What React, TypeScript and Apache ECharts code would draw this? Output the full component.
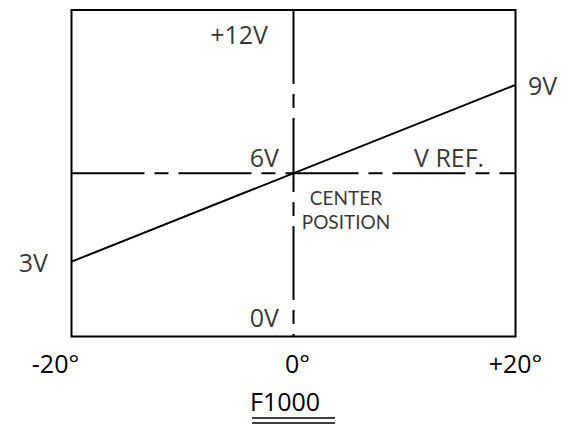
import React, { useEffect, useRef } from "react";
import * as echarts from "echarts";

// Axis ranges and tick labels
const degreeRange = [-20, 20];
const voltRange = [0, 12];
const degreeTicks = [-20, 0, 20];

// Response line (angle in degrees -> output volts)
const responseDeg = [-20, 20];
const responseVolts = [2.75, 9.25];

// Reference lines
const centerDeg = 0;
const refVolts = 6;

// Annotations (text, anchor angle, anchor volts)
const annotationTexts = ["+12V", "6V", "0V", "V REF.", "CENTER", "POSITION", "3V", "9V"];
const annotationDeg = [0, 0, 0, 0, 0, 0, -20, 20];
const annotationVolts = [12, 6, 0, 6, 6, 6, 2.75, 9.25];

const titleText = "F1000";

const FONT = "'Open Sans', sans-serif";
const SMALL_FONT = "Lato, 'Open Sans', sans-serif";

export default function App() {
  const ref = useRef<HTMLDivElement>(null);
  useEffect(() => {
    if (!ref.current) return;
    const chart = echarts.init(ref.current, null, { renderer: "svg" });

    // label placement styles (by index of annotation)
    const labelStyles: any[] = [
      { align: "right", verticalAlign: "middle", offset: [-25.5, 24], fontSize: 25 },
      { align: "right", verticalAlign: "middle", offset: [-14.5, -16.5], fontSize: 25 },
      { align: "right", verticalAlign: "middle", offset: [-14.5, -19.5], fontSize: 25 },
      { align: "left", verticalAlign: "middle", offset: [120.5, -16.5], fontSize: 25 },
      { align: "center", verticalAlign: "middle", offset: [52.5, 24.5], fontSize: 19, fontFamily: SMALL_FONT },
      { align: "center", verticalAlign: "middle", offset: [52.5, 48], fontSize: 19, fontFamily: SMALL_FONT },
      { align: "right", verticalAlign: "middle", offset: [-23.5, 0], fontSize: 25 },
      { align: "left", verticalAlign: "middle", offset: [12.5, 0], fontSize: 25 },
    ];

    const labelData = annotationTexts.map((t, i) => ({
      value: [annotationDeg[i], annotationVolts[i]],
      name: t,
      label: {
        show: true,
        position: "inside",
        formatter: t,
        color: "#000",
        fontFamily: FONT,
        ...labelStyles[i],
      },
    }));

    const fmtDeg = (v: number) => {
      const s = v > 0 ? "+" + v + "°" : v + "°";
      if (v === degreeRange[0]) return "{lo|" + s + "}";
      if (v === 0) return "{mid|" + s + "}";
      return s;
    };

    chart.setOption({
      animation: false,
      title: {
        text: titleText,
        left: 250,
        top: 388,
        padding: 0,
        textStyle: { fontFamily: FONT, fontSize: 25, fontWeight: "normal", color: "#000" },
      },
      grid: {
        left: 71.5,
        right: 47.5,
        top: 10,
        bottom: 87.5,
        show: true,
        borderColor: "#000",
        borderWidth: 2,
        backgroundColor: "transparent",
      },
      xAxis: {
        type: "value",
        min: degreeRange[0],
        max: degreeRange[1],
        interval: 20,
        axisLine: { show: false },
        axisTick: { show: false },
        splitLine: { show: false },
        axisLabel: {
          show: true,
          margin: 14,
          fontFamily: FONT,
          fontSize: 25,
          color: "#000",
          customValues: degreeTicks,
          formatter: (v: number) => fmtDeg(v),
          rich: {
            lo: { fontFamily: FONT, fontSize: 25, color: "#000", padding: [0, 32, 0, 0] },
            mid: { fontFamily: FONT, fontSize: 25, color: "#000", padding: [0, 0, 0, 8] },
          },
        },
      },
      yAxis: {
        type: "value",
        min: voltRange[0],
        max: voltRange[1],
        axisLine: { show: false },
        axisTick: { show: false },
        splitLine: { show: false },
        axisLabel: { show: false },
      },
      series: [
        {
          name: "V ref",
          type: "line",
          silent: true,
          symbol: "none",
          data: [
            [degreeRange[0], refVolts],
            [degreeRange[1], refVolts],
          ],
          lineStyle: { color: "#000", width: 2, type: [73, 10, 14, 10] },
        },
        {
          name: "Center position",
          type: "line",
          silent: true,
          symbol: "none",
          data: [
            [centerDeg, voltRange[1]],
            [centerDeg, voltRange[0]],
          ],
          lineStyle: { color: "#000", width: 2, type: [74, 10, 14, 10] },
        },
        {
          name: "Response",
          type: "line",
          silent: true,
          symbol: "none",
          data: responseDeg.map((d, i) => [d, responseVolts[i]]),
          lineStyle: { color: "#000", width: 2 },
        },
        {
          name: "Labels",
          type: "scatter",
          silent: true,
          symbolSize: 1,
          itemStyle: { color: "rgba(0,0,0,0)" },
          data: labelData,
        },
      ],
      graphic: [
        { type: "line", shape: { x1: 252, y1: 418, x2: 335, y2: 418 }, style: { stroke: "#000", lineWidth: 1.5 } },
        { type: "line", shape: { x1: 252, y1: 423, x2: 335, y2: 423 }, style: { stroke: "#000", lineWidth: 1.5 } },
      ],
    });
    return () => chart.dispose();
  }, []);
  return (
    <div
      ref={ref}
      style={{ position: "fixed", left: 0, top: 0, width: 563, height: 424, background: "#fff" }}
    />
  );
}
